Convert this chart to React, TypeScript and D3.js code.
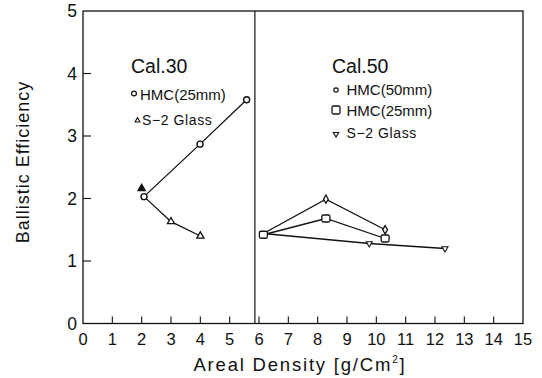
import React from "react";
import * as d3 from "d3";

const xTicks = [0, 1, 2, 3, 4, 5, 6, 7, 8, 9, 10, 11, 12, 13, 14, 15];
const yTicks = [0, 1, 2, 3, 4, 5];
const dividerX = 5.86;

// Cal.30
const cal30Hmc25: [number, number][] = [[2.08, 2.03], [3.99, 2.87], [5.58, 3.58]];
const cal30S2: [number, number][] = [[2.0, 2.16], [3.0, 1.63], [4.0, 1.40]];
// Cal.50
const cal50Hmc50: [number, number][] = [[6.15, 1.44], [8.28, 1.99], [10.3, 1.50]];
const cal50Hmc25: [number, number][] = [[6.15, 1.42], [8.28, 1.68], [10.3, 1.36]];
const cal50S2: [number, number][] = [[6.15, 1.44], [9.76, 1.28], [12.34, 1.20]];

const W = 542;
const H = 378;
const FONT = "'Liberation Sans', Arial, sans-serif";

export default function App() {
  const x = d3.scaleLinear().domain([0, 15]).range([83, 523]);
  const y = d3.scaleLinear().domain([0, 5]).range([323.5, 11]);
  const line = d3.line<[number, number]>().x((d) => x(d[0])).y((d) => y(d[1]));

  // The S-2 Glass (Cal.30) line in the figure starts from the first HMC point
  const cal30S2Line: [number, number][] = [cal30Hmc25[0], cal30S2[1], cal30S2[2]];

  const stroke = "#111";
  const tri = d3.symbol().type(d3.symbolTriangle).size(22)() as string;
  const triDown = tri;
  const diamond = d3.symbol().type(d3.symbolDiamond).size(20)() as string;

  return (
    <svg
      width={W}
      height={H}
      style={{ position: "absolute", left: 0, top: 0, background: "#fff" }}
      fontFamily={FONT}
    >
      <rect x={0} y={0} width={W} height={H} fill="#fff" />
      {/* frame */}
      <rect
        x={x(0)}
        y={y(5)}
        width={x(15) - x(0)}
        height={y(0) - y(5)}
        fill="none"
        stroke={stroke}
        strokeWidth={1.3}
      />
      {/* divider */}
      <line
        x1={x(dividerX)}
        x2={x(dividerX)}
        y1={y(5)}
        y2={y(0)}
        stroke={stroke}
        strokeWidth={1.2}
      />
      {/* x ticks */}
      {xTicks.map((t) => (
        <g key={"xt" + t}>
          {t > 0 && t < 15 && (
            <line x1={x(t)} x2={x(t)} y1={y(0)} y2={y(0) - 7} stroke={stroke} strokeWidth={1.1} />
          )}
          <text x={x(t)} y={345} fontSize={16.5} textAnchor="middle" fill={stroke}>
            {t}
          </text>
        </g>
      ))}
      {/* y ticks */}
      {yTicks.map((t) => (
        <g key={"yt" + t}>
          {t > 0 && t < 5 && (
            <line x1={x(0)} x2={x(0) + 8} y1={y(t)} y2={y(t)} stroke={stroke} strokeWidth={1.1} />
          )}
          <text x={77} y={y(t)} dy="0.36em" fontSize={17.5} textAnchor="end" fill={stroke}>
            {t}
          </text>
        </g>
      ))}
      {/* axis titles */}
      <text
        transform={`translate(29, 162) rotate(-90)`}
        fontSize={18}
        letterSpacing={1}
        textAnchor="middle"
        fill={stroke}
      >
        Ballistic Efficiency
      </text>
      <text x={300} y={371} fontSize={18.5} letterSpacing={1.8} textAnchor="middle" fill={stroke}>
        Areal Density [g/Cm
        <tspan dy={-8} fontSize={10}>2</tspan>
        <tspan dy={8}>]</tspan>
      </text>

      {/* Cal.30 */}
      <text x={131} y={73} fontSize={19.5} fill={stroke}>Cal.30</text>
      <circle cx={134} cy={93.5} r={2.4} fill="none" stroke={stroke} strokeWidth={1.2} />
      <text x={140} y={99.5} fontSize={15} fill={stroke}>HMC(25mm)</text>
      <path d={tri} transform="translate(137.5,120.5) scale(0.7)" fill="none" stroke={stroke} strokeWidth={1.5} />
      <text x={142} y={125} fontSize={14} letterSpacing={0.6} fill={stroke}>S−2 Glass</text>

      <path d={line(cal30Hmc25) || ""} fill="none" stroke={stroke} strokeWidth={1.3} />
      <path d={line(cal30S2Line) || ""} fill="none" stroke={stroke} strokeWidth={1.3} />
      {cal30Hmc25.map((d, i) => (
        <circle key={"c30h" + i} cx={x(d[0])} cy={y(d[1])} r={3} fill="#fff" stroke={stroke} strokeWidth={1.4} />
      ))}
      {cal30S2.map((d, i) => (
        <path
          key={"c30s" + i}
          d={tri}
          transform={`translate(${x(d[0])},${y(d[1])})`}
          fill={i === 0 ? stroke : "#fff"}
          stroke={stroke}
          strokeWidth={1.3}
        />
      ))}

      {/* Cal.50 */}
      <text x={332} y={73} fontSize={19.5} fill={stroke}>Cal.50</text>
      <circle cx={336} cy={90} r={2.2} fill="none" stroke={stroke} strokeWidth={1.2} />
      <text x={346.5} y={95} fontSize={15} fill={stroke}>HMC(50mm)</text>
      <rect x={332} y={106} width={8} height={8} rx={1.5} fill="none" stroke={stroke} strokeWidth={1.3} />
      <text x={346.5} y={115.5} fontSize={15} fill={stroke}>HMC(25mm)</text>
      <path d={triDown} transform="translate(336,134) rotate(180) scale(0.75)" fill="none" stroke={stroke} strokeWidth={1.5} />
      <text x={346.5} y={138} fontSize={14} letterSpacing={0.6} fill={stroke}>S−2 Glass</text>

      <path d={line(cal50Hmc50) || ""} fill="none" stroke={stroke} strokeWidth={1.3} />
      <path d={line(cal50Hmc25) || ""} fill="none" stroke={stroke} strokeWidth={1.3} />
      <path d={line(cal50S2) || ""} fill="none" stroke={stroke} strokeWidth={1.3} />
      {cal50Hmc50.slice(1).map((d, i) => (
        <path
          key={"c50a" + i}
          d={diamond}
          transform={`translate(${x(d[0])},${y(d[1])})`}
          fill="#fff"
          stroke={stroke}
          strokeWidth={1.3}
        />
      ))}
      {cal50Hmc25.map((d, i) => (
        <rect
          key={"c50b" + i}
          x={x(d[0]) - 4}
          y={y(d[1]) - 3.5}
          width={8}
          height={7}
          rx={1.5}
          fill="#fff"
          stroke={stroke}
          strokeWidth={1.3}
        />
      ))}
      {cal50S2.slice(1).map((d, i) => (
        <path
          key={"c50c" + i}
          d={triDown}
          transform={`translate(${x(d[0])},${y(d[1])}) rotate(180) scale(0.85)`}
          fill="#fff"
          stroke={stroke}
          strokeWidth={1.3}
        />
      ))}
    </svg>
  );
}
